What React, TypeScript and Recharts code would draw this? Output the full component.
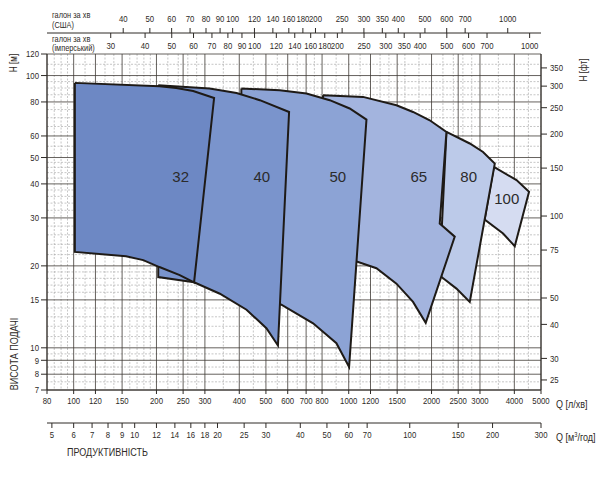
import { CartesianGrid, Scatter, ScatterChart, XAxis, YAxis } from "recharts";

const FONT = "'Liberation Sans', Arial, sans-serif";
const INK = "#2e2a26";
const SQUEEZE = 0.82; // the original uses a condensed face

// unit conversions for the secondary axes
const L_PER_US_GAL = 3.785;
const L_PER_IMP_GAL = 4.546;
const M3H_PER_LMIN = 0.06;
const M_PER_FT = 0.3048;

const qDomain = [80, 5000];
const hDomain = [7, 120];

const qTicks = [80, 100, 120, 150, 200, 250, 300, 400, 500, 600, 700, 800, 1000, 1200, 1500, 2000, 2500, 3000, 4000, 5000];
const m3Ticks = [5, 6, 7, 8, 9, 10, 12, 14, 16, 18, 20, 25, 30, 40, 50, 60, 70, 100, 150, 200, 300];
const usGalTicks = [40, 50, 60, 70, 80, 90, 100, 120, 140, 160, 180, 200, 250, 300, 350, 400, 500, 600, 700, 1000];
const impGalTicks = [30, 40, 50, 60, 70, 80, 90, 100, 120, 140, 160, 180, 200, 250, 300, 350, 400, 500, 600, 700, 1000];
const hTicks = [7, 8, 9, 10, 15, 20, 30, 40, 50, 60, 80, 100, 120];
const ftTicks = [25, 30, 40, 50, 75, 100, 150, 200, 250, 300, 350];

const qMinor = [85, 90, 95, 110, 130, 140, 160, 170, 180, 190, 220, 240, 260, 280, 350, 450, 550, 650, 750, 900, 1100, 1300, 1400, 1600, 1800, 2200, 2400, 2600, 2800, 3500, 4500];
const hMinor = [7.5, 8.5, 9.5, 11, 12, 13, 14, 16, 17, 18, 19, 22, 24, 26, 28, 32, 34, 36, 38, 42, 44, 46, 48, 55, 65, 70, 75, 85, 90, 95, 110];

type Pt = { q: number; h: number };

// pump working fields, traced clockwise from the top-left corner
const pump32: Pt[] = [
  { q: 101, h: 94 }, { q: 205, h: 91.3 }, { q: 236, h: 90 }, { q: 272, h: 87.8 }, { q: 324, h: 82.7 },
  { q: 274, h: 17.4 }, { q: 243, h: 18.5 }, { q: 205, h: 19.8 }, { q: 179, h: 21 }, { q: 155, h: 21.7 }, { q: 101, h: 22.5 },
];
const pump40: Pt[] = [
  { q: 203, h: 92.1 }, { q: 312, h: 89.6 }, { q: 391, h: 86.3 }, { q: 475, h: 81.2 }, { q: 607, h: 73.5 },
  { q: 553, h: 10.2 }, { q: 502, h: 11.8 }, { q: 425, h: 13.8 }, { q: 340, h: 15.8 }, { q: 274, h: 17.4 }, { q: 203, h: 18.2 },
];
const pump50: Pt[] = [
  { q: 407, h: 89.6 }, { q: 561, h: 88.3 }, { q: 702, h: 85.9 }, { q: 853, h: 81.2 }, { q: 1008, h: 75.7 }, { q: 1160, h: 68.9 },
  { q: 1003, h: 8.5 }, { q: 902, h: 10.4 }, { q: 742, h: 12.3 }, { q: 569, h: 14.4 }, { q: 407, h: 16.1 },
];
const pump65: Pt[] = [
  { q: 806, h: 84.7 }, { q: 1127, h: 83.5 }, { q: 1491, h: 77.8 }, { q: 1713, h: 73.5 }, { q: 1970, h: 68.5 }, { q: 2266, h: 62.1 },
  { q: 2142, h: 28.6 }, { q: 2429, h: 25.6 }, { q: 1905, h: 12.35 },
  { q: 1713, h: 14.75 }, { q: 1491, h: 17.2 }, { q: 1261, h: 19.6 }, { q: 1076, h: 20.7 }, { q: 806, h: 21.3 },
];
const pump80: Pt[] = [
  { q: 2266, h: 62.1 }, { q: 2754, h: 56.3 }, { q: 3078, h: 52.4 }, { q: 3396, h: 47.5 },
  { q: 2754, h: 14.75 }, { q: 2464, h: 16.5 }, { q: 2174, h: 18.2 }, { q: 2142, h: 19.3 },
];
const pump100: Pt[] = [
  { q: 3370, h: 46.2 }, { q: 4073, h: 41.3 }, { q: 4524, h: 37.4 },
  { q: 4014, h: 23.6 }, { q: 3640, h: 26.3 }, { q: 3120, h: 29.6 },
];

const pumpLabels = [
  { name: "32", q: 245, h: 42.7 },
  { name: "40", q: 483, h: 42.7 },
  { name: "50", q: 912, h: 42.7 },
  { name: "65", q: 1797, h: 42.7 },
  { name: "80", q: 2730, h: 42.7 },
  { name: "100", q: 3754, h: 35.4 },
];

// drawn largest first so the smaller pumps sit on top
const fields = [
  { key: "100", data: pump100, color: "#d5dcf1" },
  { key: "80", data: pump80, color: "#bccae9" },
  { key: "65", data: pump65, color: "#a3b4de" },
  { key: "50", data: pump50, color: "#8ca3d5" },
  { key: "40", data: pump40, color: "#7a94cc" },
  { key: "32", data: pump32, color: "#6d88c4" },
];

const closed = (pts: Pt[]) => [...pts, pts[0]];

const baselineFor = (anchor?: string) =>
  anchor === "start" ? "hanging" : anchor === "end" ? "alphabetic" : "central";

// condensed text drawn around its anchor point
function NText({ x, y, size = 9.5, anchor = "start", baseline = "alphabetic", rotate = 0, children }: any) {
  return (
    <text
      transform={`translate(${x},${y}) rotate(${rotate}) scale(${SQUEEZE},1)`}
      textAnchor={anchor}
      dominantBaseline={baseline}
      fontSize={size}
      fill={INK}
      fontFamily={FONT}
    >
      {children}
    </text>
  );
}

const NarrowTick = (p: any) => (
  <NText x={p.x} y={p.y} anchor={p.textAnchor} baseline={baselineFor(p.verticalAnchor)}>
    {p.payload.value}
  </NText>
);

// imperial gallons hang below the shared gallon line
const ImpTick = (p: any) => (
  <g>
    <line x1={p.x} x2={p.x} y1={p.y - 21} y2={p.y - 16} stroke={INK} />
    <NText x={p.x} y={p.y - 8} anchor="middle" baseline="central">
      {p.payload.value}
    </NText>
  </g>
);

const LabelShape = (p: any) => (
  <text
    x={p.cx}
    y={p.cy}
    textAnchor="middle"
    dominantBaseline="central"
    fontSize={15}
    fill="#2b2b2b"
    fontFamily="'Liberation Sans', sans-serif"
  >
    {p.payload.name}
  </text>
);

export default function App() {
  return (
    <div style={{ position: "absolute", left: 0, top: 0, width: 600, height: 504, background: "#fff" }}>
      <ScatterChart width={600} height={504} margin={{ top: 13, right: 0, bottom: 51, left: 0 }}>
        <CartesianGrid
          xAxisId="lmin"
          yAxisId="h"
          verticalValues={qMinor}
          horizontalValues={hMinor}
          stroke="#a0a0a0"
          strokeWidth={0.6}
          strokeDasharray="2 1.5"
        />
        <CartesianGrid
          xAxisId="lmin"
          yAxisId="h"
          verticalValues={qTicks}
          horizontalValues={hTicks}
          stroke="#3f3a35"
          strokeWidth={0.8}
        />
        <XAxis
          xAxisId="imp"
          dataKey="gal"
          orientation="top"
          type="number"
          scale="log"
          domain={[qDomain[0] / L_PER_IMP_GAL, qDomain[1] / L_PER_IMP_GAL]}
          allowDataOverflow
          ticks={impGalTicks}
          interval={0}
          height={21}
          axisLine={false}
          tickLine={false}
          tickSize={0}
          tickMargin={0}
          tick={ImpTick}
        />
        <XAxis
          xAxisId="us"
          dataKey="gal"
          orientation="top"
          type="number"
          scale="log"
          domain={[qDomain[0] / L_PER_US_GAL, qDomain[1] / L_PER_US_GAL]}
          allowDataOverflow
          ticks={usGalTicks}
          interval={0}
          height={20}
          stroke={INK}
          tickSize={5}
          tickMargin={6}
          tick={NarrowTick}
        />
        <XAxis
          xAxisId="lmin"
          dataKey="q"
          orientation="bottom"
          type="number"
          scale="log"
          domain={qDomain}
          allowDataOverflow
          ticks={qTicks}
          interval={0}
          height={33}
          stroke={INK}
          tickSize={4}
          tickMargin={3}
          tick={NarrowTick}
        />
        <XAxis
          xAxisId="m3h"
          dataKey="m3"
          orientation="bottom"
          type="number"
          scale="log"
          domain={[qDomain[0] * M3H_PER_LMIN, qDomain[1] * M3H_PER_LMIN]}
          allowDataOverflow
          ticks={m3Ticks}
          interval={0}
          height={30}
          stroke={INK}
          tickSize={5}
          tickMargin={3}
          tick={NarrowTick}
        />
        <YAxis
          yAxisId="h"
          dataKey="h"
          orientation="left"
          type="number"
          scale="log"
          domain={hDomain}
          allowDataOverflow
          ticks={hTicks}
          interval={0}
          width={47}
          stroke={INK}
          tickSize={6}
          tickMargin={2}
          tick={NarrowTick}
        />
        <YAxis
          yAxisId="ft"
          orientation="right"
          type="number"
          scale="log"
          domain={[hDomain[0] / M_PER_FT, hDomain[1] / M_PER_FT]}
          allowDataOverflow
          ticks={ftTicks}
          interval={0}
          width={59}
          stroke={INK}
          tickSize={6}
          tickMargin={3}
          tick={NarrowTick}
        />
        {fields.map((f) => (
          <Scatter
            key={f.key}
            xAxisId="lmin"
            yAxisId="h"
            data={closed(f.data)}
            fill={f.color}
            line={{ stroke: "#1e1a16", strokeWidth: 2, fill: f.color }}
            lineJointType="linear"
            shape={() => <g />}
            isAnimationActive={false}
          />
        ))}
        <Scatter
          xAxisId="lmin"
          yAxisId="h"
          data={pumpLabels}
          shape={LabelShape}
          isAnimationActive={false}
        />
      </ScatterChart>
      <svg width={600} height={504} style={{ position: "absolute", left: 0, top: 0, pointerEvents: "none" }}>
        <NText x={52} y={18} size={9}>галон за хв</NText>
        <NText x={52} y={28} size={9}>(США)</NText>
        <NText x={52} y={42} size={9}>галон за хв</NText>
        <NText x={52} y={51} size={9}>(імперський)</NText>
        <NText x={17} y={63} size={10} anchor="middle" rotate={-90}>H [м]</NText>
        <NText x={18} y={354} size={11} anchor="middle" rotate={-90}>ВИСОТА ПОДАЧІ</NText>
        <NText x={587} y={70} size={10} anchor="middle" rotate={-90}>H [фт]</NText>
        <NText x={556} y={408} size={11}>Q [л/хв]</NText>
        <NText x={556} y={441} size={11}>
          Q [м<tspan fontSize={7} dy={-4}>3</tspan>
          <tspan dy={4}>/год]</tspan>
        </NText>
        <NText x={67} y={456} size={11}>ПРОДУКТИВНІСТЬ</NText>
      </svg>
    </div>
  );
}
